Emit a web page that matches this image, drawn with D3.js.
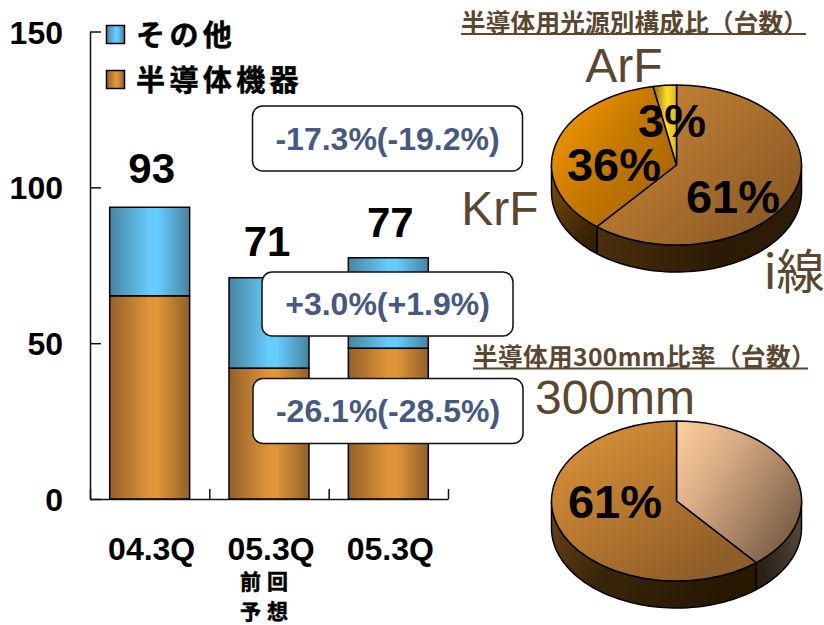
<!DOCTYPE html>
<html><head><meta charset="utf-8">
<script src="https://cdn.jsdelivr.net/npm/d3@7"></script>
<style>html,body{margin:0;background:#fff}svg{display:block}</style></head><body>
<svg id="c" width="824" height="625"></svg>
<script>
const categories=["04.3Q","05.3Q ","05.3Q"];
const deviceValues=[65.2,42,48.4];
const otherValues=[28.4,29,29];
const totalLabels=["93","71","77"];
const yTicks=[0,50,100,150];
const subLabels=["前回","予想"];
const legendLabels=["その他","半導体機器"];
const calloutLabels=["-17.3%(-19.2%)","+3.0%(+1.9%)","-26.1%(-28.5%)"];
const pie1Names=["i線","KrF","ArF"];
const pie1Values=[61,36,3];
const pie1Labels=["61%","36%","3%"];
const pie2Names=["その他","300mm"];
const pie2Values=[39,61];
const pie2Labels=["","61%"];
const title1="半導体用光源別構成比（台数）";
const title2="半導体用300mm比率（台数）";

const svg=d3.select("#c");
const LAT="'Liberation Sans',Arial,sans-serif";
const CJK="'Noto Sans CJK JP','Liberation Sans',sans-serif";
const BROWN="#5b4630",SLATE="#46597f";
const defs=svg.append("defs");
function grad(id,stops,x1=0,y1=0,x2=1,y2=0){
  const g=defs.append("linearGradient").attr("id",id).attr("x1",x1).attr("y1",y1).attr("x2",x2).attr("y2",y2);
  stops.forEach(s=>g.append("stop").attr("offset",s[0]).attr("stop-color",s[1]));
}
grad("gBlue",[[0,"#47849f"],[.5,"#66ccff"],[.6,"#66ccff"],[1,"#47849f"]]);
grad("gOrange",[[0,"#936029"],[.5,"#e09539"],[.6,"#e09539"],[1,"#936029"]]);
grad("gI",[[0,"#c98635"],[.45,"#b0742f"],[1,"#8c5a25"]],.1,0,1,.7);
grad("gK",[[0,"#f99b00"],[.5,"#c87a00"],[1,"#a86500"]],0,.1,.9,.8);
grad("gA",[[0,"#8a6a10"],[.6,"#ffdc28"],[1,"#e0b818"]],0,0,1,0);
grad("gLight",[[0,"#ffcf9e"],[.35,"#dcae86"],[1,"#775d45"]],0,0,1,.75);
grad("gDark",[[0,"#e09539"],[.5,"#b87a30"],[1,"#8f5d28"]],0,0,.8,.9);
grad("gS1",[[0,"#4a2f0c"],[.6,"#2b1a04"],[1,"#2e1c06"]],0,0,1,0);
grad("gS2",[[0,"#7e5110"],[1,"#352000"]],0,0,.6,1);
grad("gS3",[[0,"#6a4416"],[.4,"#3a260a"],[1,"#281802"]],0,0,1,.3);
grad("gS4",[[0,"#2a2016"],[1,"#5a4a3a"]],0,.3,1,0);

// --- bar chart
const x0=90,x1=448,yB=499,yT=31.5;
const y=d3.scaleLinear().domain([0,150]).range([yB,yT]);
const xb=d3.scaleBand().domain(d3.range(categories.length)).range([x0,x1]).paddingInner(.33).paddingOuter(.165);
const stack=d3.stack().keys(["device","other"])(categories.map((c,i)=>({device:deviceValues[i],other:otherValues[i]})));
const fills=["url(#gOrange)","url(#gBlue)"];
stack.forEach((s,k)=>{
  svg.append("g").selectAll("rect").data(s).join("rect")
    .attr("x",(d,i)=>xb(i)).attr("width",xb.bandwidth())
    .attr("y",d=>y(d[1])).attr("height",d=>y(d[0])-y(d[1]))
    .attr("fill",fills[k]).attr("stroke","#000").attr("stroke-width",1.5);
});
const ax=svg.append("g").attr("transform",`translate(${x0},0)`)
  .call(d3.axisLeft(y).tickValues(yTicks).tickSizeInner(-11).tickSizeOuter(0).tickPadding(27));
ax.selectAll("text").attr("font-family",LAT).attr("font-weight",700).attr("font-size",32).attr("fill","#000").attr("dy","0.36em");
ax.selectAll("path,line").attr("stroke","#111").attr("stroke-width",1.5);
const xt=d3.scaleLinear().domain([0,3]).range([x0,x1]);
const axb=svg.append("g").attr("transform",`translate(0,${yB})`)
  .call(d3.axisBottom(xt).tickValues([0,1,2,3]).tickSizeInner(-10).tickSizeOuter(0).tickFormat(""));
axb.selectAll("path,line").attr("stroke","#111").attr("stroke-width",1.5);

const txt=(s,x,yy,size,o={})=>svg.append("text").text(s).attr("x",x).attr("y",yy)
  .attr("font-family",o.f||LAT).attr("font-size",size).attr("font-weight",o.w===undefined?700:o.w)
  .attr("fill",o.c||"#000").attr("text-anchor",o.a||"middle").attr("letter-spacing",o.ls||null)
  .attr("stroke",o.s?(o.c||"#000"):null).attr("stroke-width",o.s||null);

categories.forEach((c,i)=>{
  const cx=xb(i)+xb.bandwidth()/2;
  txt(c.trim(),cx+2,560,32);
  const t=deviceValues[i]+otherValues[i];
  txt(totalLabels[i],cx+(i==0?2:i==1?-2:2),y(t)-[24,22,21][i],42);
});
subLabels.forEach((s,i)=>txt(s,267,[589,619][i],21,{f:CJK,ls:6,s:.5}));

// legend
[["url(#gBlue)",legendLabels[0],36],["url(#gOrange)",legendLabels[1],81]].forEach(l=>{
  svg.append("rect").attr("x",106.5).attr("y",l[2]-10.5).attr("width",18).attr("height",18)
    .attr("fill",l[0]).attr("stroke","#000").attr("stroke-width",1.5);
  txt(l[1],136,l[2]+10,29,{f:CJK,a:"start",ls:4.4,s:.5});
});

// callouts
[[252.5,106,270,65],[262,272,251,64],[253,378.5,270,65]].forEach((b,i)=>{
  svg.append("rect").attr("x",b[0]).attr("y",b[1]).attr("width",b[2]).attr("height",b[3]).attr("rx",10)
    .attr("fill","#fff").attr("stroke","#111").attr("stroke-width",1.5);
  txt(calloutLabels[i],b[0]+b[2]/2,b[1]+b[3]/2+11,32,{c:SLATE});
});

// --- pies
const RX=125,RY=80,D=27;
function drawPie(cx,cy,values,tops,sides){
  const arcs=d3.pie().sort(null)(values);
  const pt=(a,dy=0)=>[cx+RX*Math.sin(a),cy-RY*Math.cos(a)+dy];
  const line=d3.line();
  const g=svg.append("g");
  const lo=Math.PI/2,hi=3*Math.PI/2;
  arcs.forEach((d,i)=>{
    const a=Math.max(d.startAngle,lo),b=Math.min(d.endAngle,hi);
    if(b<=a)return;
    const n=60,top=d3.range(n+1).map(k=>pt(a+(b-a)*k/n)),bot=top.slice().reverse().map(p=>[p[0],p[1]+D]);
    g.append("path").attr("d",line(top.concat(bot))+"Z").attr("fill",sides[i])
      .attr("stroke","#000").attr("stroke-width",1.5).attr("stroke-linejoin","round");
  });
  const arc=d3.arc().innerRadius(0).outerRadius(1);
  arcs.forEach((d,i)=>{
    g.append("path").attr("d",arc(d)).attr("transform",`translate(${cx},${cy}) scale(${RX},${RY})`)
      .attr("fill",tops[i]).attr("stroke","#000").attr("stroke-width",1.5)
      .attr("vector-effect","non-scaling-stroke").attr("stroke-linejoin","round");
  });
}
drawPie(676.5,165,pie1Values,["url(#gI)","url(#gK)","url(#gA)"],["url(#gS1)","url(#gS2)","url(#gS1)"]);
drawPie(676.5,501,pie2Values,["url(#gLight)","url(#gDark)"],["url(#gS4)","url(#gS3)"]);

[[733,213],[614,181],[672,137]].forEach((p,i)=>txt(pie1Labels[i],p[0],p[1],47));
txt(pie2Labels[1],615,518,47);

// pie names
[[794,289,48,pie1Names[0]],[500,225,48,pie1Names[1]],[624,82,48,pie1Names[2]],[615,414,48,pie2Names[1]]].forEach(p=>
  txt(p[3],p[0],p[1],p[2],{w:400,c:BROWN,f:p[3]=="i線"?CJK:LAT}));

// pie titles
[[title1,461,32,461,806,34],[title2,473,366,473,808,368.5]].forEach((t,i)=>{
  txt(t[0],t[1],t[2],24.6,{f:CJK,c:BROWN,a:"start",ls:i==0?0.2:0.4});
  svg.append("line").attr("x1",t[3]).attr("x2",t[4]).attr("y1",t[5]).attr("y2",t[5]).attr("stroke",BROWN).attr("stroke-width",2);
});
</script></body></html>
